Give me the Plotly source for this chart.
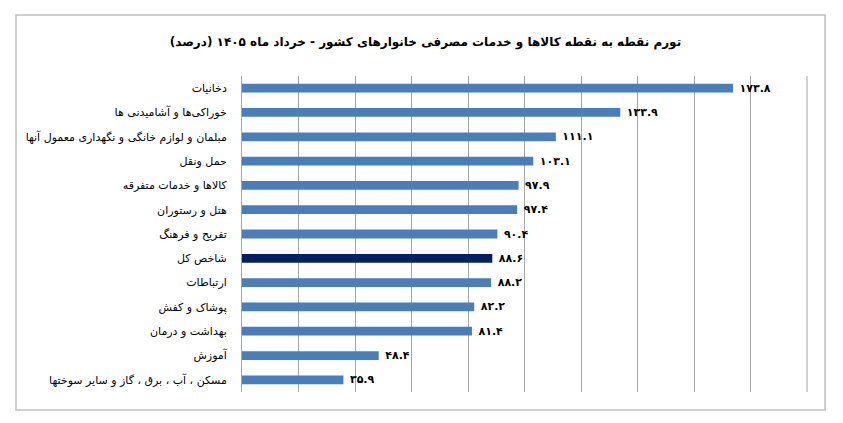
import plotly.graph_objects as go

# داده‌ها: تورم نقطه به نقطه (درصد)
categories = [
    "دخانیات",
    "خوراکی‌ها و آشامیدنی ها",
    "مبلمان و لوازم خانگی و نگهداری معمول آنها",
    "حمل ونقل",
    "کالاها و خدمات متفرقه",
    "هتل و رستوران",
    "تفریح و فرهنگ",
    "شاخص کل",
    "ارتباطات",
    "پوشاک و کفش",
    "بهداشت و درمان",
    "آموزش",
    "مسکن ، آب ، برق ، گاز و سایر سوختها",
]
values = [173.8, 133.9, 111.1, 103.1, 97.9, 97.4, 90.4, 88.6, 88.2, 82.2, 81.4, 48.4, 35.9]
highlight = "شاخص کل"

TITLE = "تورم نقطه به نقطه کالاها و خدمات مصرفی خانوارهای کشور - خرداد ماه ۱۴۰۵ (درصد)"

FA_DIGITS = str.maketrans("0123456789", "۰۱۲۳۴۵۶۷۸۹")


def fa(v):
    return ("%.1f" % v).translate(FA_DIGITS)


colors = ["#002060" if c == highlight else "#4A7EBB" for c in categories]
labels = ["\u00a0<b>" + fa(v) + "</b>" for v in values]

fig = go.Figure(
    go.Bar(
        x=values,
        y=categories,
        orientation="h",
        width=0.36,
        marker=dict(color=colors, line=dict(width=0)),
        text=labels,
        textposition="outside",
        constraintext="none",
        cliponaxis=False,
        textfont=dict(family="DejaVu Sans", size=11, color="black"),
    )
)

# the page adds an 8px body margin, so the figure is drawn 8px smaller
fig.update_layout(
    width=835,
    height=415,
    margin=dict(l=234, r=36, t=68, b=31),
    paper_bgcolor="white",
    plot_bgcolor="white",
    showlegend=False,
    font=dict(family="DejaVu Sans", size=11, color="black"),
    title=dict(
        text="<b>" + TITLE + "</b>",
        x=0.5,
        xref="container",
        xanchor="center",
        y=0.918,
        yref="container",
        yanchor="middle",
        font=dict(size=12, color="black"),
    ),
    shapes=[
        dict(
            type="rect",
            xref="paper",
            yref="paper",
            x0=-0.4,
            x1=1.032,
            y0=-0.057,
            y1=1.193,
            line=dict(color="#BFBFBF", width=1.5),
            layer="below",
        ),
        # last gridline at the right edge of the plot area
        dict(
            type="line",
            xref="paper",
            yref="paper",
            x0=1,
            x1=1,
            y0=0,
            y1=1,
            line=dict(color="#A6A6A6", width=1),
            layer="above",
        ),
    ],
)

fig.update_xaxes(
    range=[0, 200],
    dtick=20,
    showgrid=True,
    gridcolor="#A6A6A6",
    gridwidth=1,
    showticklabels=False,
    zeroline=False,
    showline=False,
)
fig.update_yaxes(
    autorange="reversed",
    automargin=False,
    showline=True,
    linecolor="#A6A6A6",
    linewidth=1,
    ticks="",
    ticklabelstandoff=12,
    tickfont=dict(size=11, color="black"),
)

fig.write_html("out.html")
